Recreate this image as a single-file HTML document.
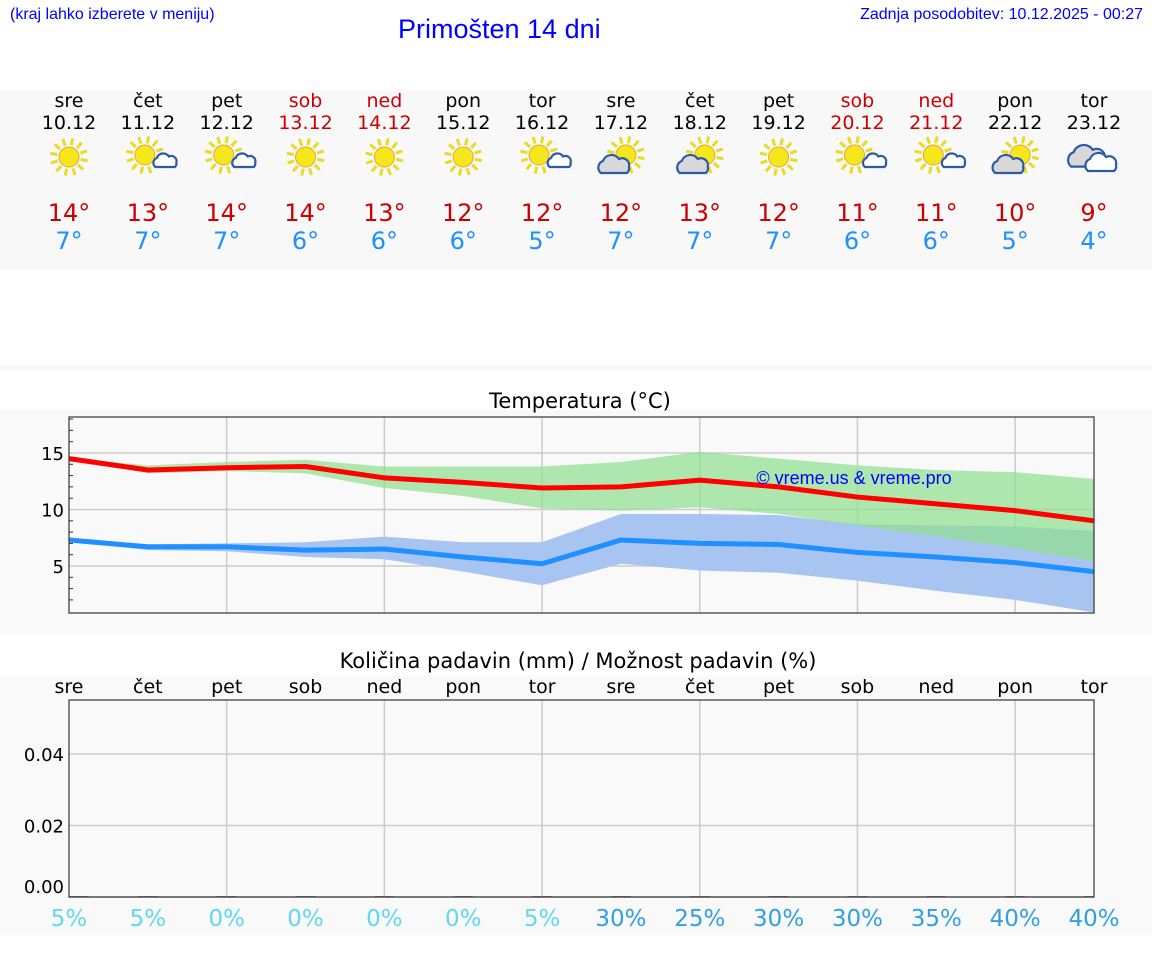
<!DOCTYPE html>
<html><head><meta charset="utf-8"><style>
body{margin:0;width:1152px;height:975px;background:#fff;position:relative;overflow:hidden;font-family:"DejaVu Sans",sans-serif}
.abs{position:absolute}
</style></head><body>
<div class="abs" style="left:10px;top:6px;font:16px 'Liberation Sans',sans-serif;color:#0000ff">(kraj lahko izberete v meniju)</div>
<div class="abs" style="left:398px;top:14px;font:27px 'Liberation Sans',sans-serif;color:#0000ff">Primošten 14 dni</div>
<div class="abs" style="right:9px;top:6px;font:16px 'Liberation Sans',sans-serif;color:#0000ff">Zadnja posodobitev: 10.12.2025 - 00:27</div>
<div class="abs" style="left:0;top:90px;width:1152px;height:180px;background:#f8f8f8"></div>
<div class="abs" style="left:0;top:365px;width:1152px;height:5px;background:#f8f8f8"></div>
<div class="abs" style="left:0;top:410px;width:1152px;height:225px;background:#f9f9f9"></div>
<div class="abs" style="left:0;top:675px;width:1152px;height:260px;background:#f9f9f9"></div>
<svg id="svg" class="abs" style="left:0;top:0" width="1152" height="975"></svg>
<script>
const days=["sre","čet","pet","sob","ned","pon","tor","sre","čet","pet","sob","ned","pon","tor"];
const dates=["10.12","11.12","12.12","13.12","14.12","15.12","16.12","17.12","18.12","19.12","20.12","21.12","22.12","23.12"];
const weekend=[0,0,0,1,1,0,0,0,0,0,1,1,0,0];
const icons=["s","sc","sc","s","s","s","sc","cs","cs","s","sc","sc","cs","c"];
const maxT=[14,13,14,14,13,12,12,12,13,12,11,11,10,9];
const minT=[7,7,7,6,6,6,5,7,7,7,6,6,5,4];
const maxLine=[14.5,13.5,13.7,13.8,12.8,12.4,11.9,12.0,12.6,12.0,11.1,10.5,9.9,9.0];
const maxHi=[14.6,13.9,14.2,14.4,13.8,13.8,13.8,14.2,15.1,14.5,13.9,13.5,13.3,12.7];
const maxLo=[14.4,13.2,13.4,13.2,11.9,11.2,10.1,9.9,10.2,9.6,8.6,7.6,6.6,5.4];
const minLine=[7.3,6.7,6.7,6.4,6.5,5.8,5.2,7.3,7.0,6.9,6.2,5.8,5.3,4.5];
const minHi=[7.5,6.9,7.0,7.1,7.6,7.1,7.1,9.6,9.6,9.5,8.7,8.6,8.5,8.1];
const minLo=[7.2,6.4,6.3,5.8,5.6,4.5,3.3,5.2,4.6,4.4,3.7,2.8,2.0,0.9];
const precip=[0,0,0,0,0,0,0,0,0,0,0,0,0,0];
const prob=[5,5,0,0,0,0,5,30,25,30,30,35,40,40];
const tTicks=[5,10,15];
const pTicks=["0.00","0.02","0.04"];

const svg=document.getElementById('svg');const NS="http://www.w3.org/2000/svg";
function mk(t,a,p){const e=document.createElementNS(NS,t);for(const k in a)e.setAttribute(k,a[k]);(p||svg).appendChild(e);return e;}
function txt(x,y,s,size,fill,anchor){const e=mk('text',{x:x,y:y,'font-size':size,fill:fill,'text-anchor':anchor||'middle','font-family':'DejaVu Sans,sans-serif'});e.textContent=s;return e;}
const X0=69,X1=1094;const xd=i=>X0+i*(X1-X0)/13;
const ty=v=>453-(v-15)*11.3;
const py=v=>897-v*3575;

days.forEach((d,i)=>{const x=xd(i);const c=weekend[i]?'#cc0000':'#000';
 let e=txt(x,107,d,19,c);
 e=txt(x,129,dates[i],19,c);
 e=txt(x,221,maxT[i]+'°',24,'#cc0000');
 e=txt(x,249,minT[i]+'°',24,'#1e90ff');
 const g=mk('g',{transform:`translate(${x},157)`});
 
 
 const t=icons[i];
 function sun(cx,cy){for(let k=0;k<12;k++){const a=k*Math.PI/6+0.2;mk('line',{x1:cx+Math.cos(a)*12,y1:cy+Math.sin(a)*12,x2:cx+Math.cos(a)*19,y2:cy+Math.sin(a)*19,stroke:'#e8dc20','stroke-width':3},g);}
  mk('circle',{cx:cx,cy:cy,r:10,fill:'#f4e81c',stroke:'#f0a030','stroke-width':1},g);}
 function cloud(cx,cy,s,fill){mk('path',{d:`M${cx-14*s},${cy+8*s} a${7*s},${7*s} 0 0 1 ${2*s},${-12*s} a${9*s},${9*s} 0 0 1 ${16*s},${-2*s} a${7*s},${7*s} 0 0 1 ${10*s},${8*s} a${6*s},${6*s} 0 0 1 ${-2*s},${6*s} z`,fill:fill,stroke:'#2a5aa8','stroke-width':2.2},g);}
 if(t=='s')sun(0,0);
 if(t=='sc'){sun(-3,-2);cloud(18,4,0.75,'#fff');}
 if(t=='cs'){sun(5,-2);cloud(-6,8,1,'#d8d8d8');}
 if(t=='c'){cloud(-6,0,1.2,'#d8d8d8');cloud(8,6,1.0,'#fff');}
});

let e=txt(580,408,'Temperatura (°C)',21,'#000');
mk('rect',{x:X0,y:417,width:X1-X0,height:196,fill:'#f9f9f9'});
for(let i=2;i<13;i+=2){const l=mk('line',{x1:xd(i),x2:xd(i),y1:417,y2:613,stroke:'#ccc','stroke-width':1.5});}
tTicks.forEach(v=>{const l=mk('line',{x1:X0,x2:X1,y1:ty(v),y2:ty(v),stroke:'#ccc','stroke-width':1.5});
 const t=txt(64,ty(v)+7,String(v),18,'#000','end');});
for(let v=2;v<=18;v++){if(v%5)mk('line',{x1:X0,x2:X0+4,y1:ty(v),y2:ty(v),stroke:'#333'});}
function band(hi,lo,fill,op,name){let d='M'+hi.map((v,i)=>xd(i)+','+ty(v)).join(' L')+' L'+lo.map((v,i)=>xd(i)+','+ty(v)).reverse().join(' L')+'Z';
 const p=mk('path',{d:d,fill:fill,'fill-opacity':op});}
function line(vals,col,name){const p=mk('polyline',{points:vals.map((v,i)=>xd(i)+','+ty(v)).join(' '),fill:'none',stroke:col,'stroke-width':5});}
band(minHi,minLo,'#a8c4f0',1,'min-temp-range');
band(maxHi,maxLo,'#8fe08f',0.7,'max-temp-range');
line(maxLine,'#ff0000','max-temp-line');
line(minLine,'#1e90ff','min-temp-line');
e=txt(854,484,'© vreme.us & vreme.pro',18,'#0000ff');e.setAttribute('font-family','Liberation Sans,sans-serif');
mk('rect',{x:X0,y:417,width:X1-X0,height:196,fill:'none',stroke:'#333','stroke-width':1.2});

e=txt(578,668,'Količina padavin (mm) / Možnost padavin (%)',21,'#000');
days.forEach((d,i)=>{const t=txt(xd(i),693,d,19,'#000');
 const c=prob[i]>=25?'#30a0e0':'#60d8f0';
 const p=txt(xd(i),926,prob[i]+'%',23,c);
 const b=mk('rect',{x:Math.max(X0,xd(i)-10),y:py(precip[i])-1,width:Math.min(20,X1-Math.max(X0,xd(i)-10)),height:Math.max(1,897-py(precip[i])),fill:'#555'});});
for(let i=2;i<13;i+=2){mk('line',{x1:xd(i),x2:xd(i),y1:700,y2:897,stroke:'#ccc','stroke-width':1.5});}
pTicks.forEach(s=>{const v=parseFloat(s);mk('line',{x1:X0,x2:X1,y1:py(v),y2:py(v),stroke:'#ccc','stroke-width':1.5});
 const t=txt(64,py(v)+(v==0?-4:7),s,18,'#000','end');});
mk('rect',{x:X0,y:700,width:X1-X0,height:197,fill:'none',stroke:'#333','stroke-width':1.2});
</script>
</body></html>
